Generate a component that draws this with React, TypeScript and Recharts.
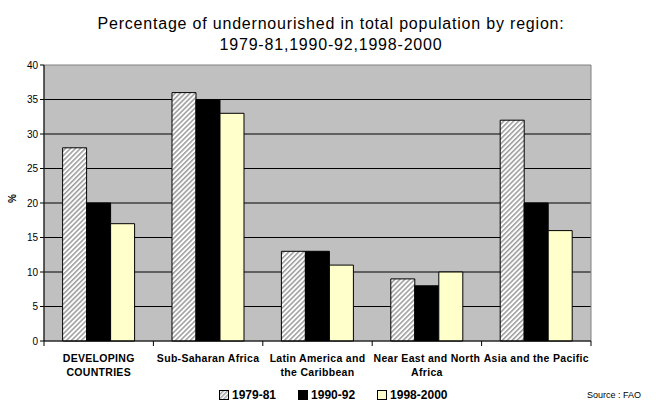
import React from "react";
import { BarChart, Bar, XAxis, YAxis, CartesianGrid, ReferenceArea } from "recharts";

const categories = [
  "DEVELOPING\nCOUNTRIES",
  "Sub-Saharan Africa",
  "Latin America and\nthe Caribbean",
  "Near East and North\nAfrica",
  "Asia and the Pacific",
];
const series = ["1979-81", "1990-92", "1998-2000"];
const v1979 = [28, 36, 13, 9, 32];
const v1990 = [20, 35, 13, 8, 20];
const v1998 = [17, 33, 11, 10, 16];
const yTicks = [0, 5, 10, 15, 20, 25, 30, 35, 40];

const data = categories.map((name, i) => ({
  name,
  [series[0]]: v1979[i],
  [series[1]]: v1990[i],
  [series[2]]: v1998[i],
}));

const W = 662;
const H = 407;
const PLOT_LEFT = 44;
const PLOT_RIGHT = 591;
const BAND = (PLOT_RIGHT - PLOT_LEFT) / categories.length;

const fills = ["url(#hatch)", "#000000", "#FFFFCC"];
const font = "Arial, 'Liberation Sans', sans-serif";

function CategoryTick(props: any) {
  const { x, y, payload, index } = props;
  const lines = String(payload.value).split("\n");
  return (
    <g>
      <line x1={x - BAND / 2} y1={y - 8} x2={x - BAND / 2} y2={y - 3} stroke="#000" />
      {index === categories.length - 1 && (
        <line x1={x + BAND / 2} y1={y - 8} x2={x + BAND / 2} y2={y - 3} stroke="#000" />
      )}
      <text textAnchor="middle" fontSize={10.5} fontWeight="bold" fontFamily={font} fill="#000" letterSpacing={0.3}>
        {lines.map((l, i) => (
          <tspan key={i} x={x} y={y + 13 + i * 14}>
            {l}
          </tspan>
        ))}
      </text>
    </g>
  );
}

function Swatch({ fill }: { fill: string }) {
  return (
    <svg width={10} height={10} style={{ marginRight: 3 }}>
      <rect x={0.5} y={0.5} width={9} height={9} fill={fill} stroke="#000" strokeWidth={1} />
    </svg>
  );
}

export default function App() {
  return (
    <div style={{ position: "absolute", left: 0, top: 0, width: W, height: H, background: "#fff", fontFamily: font }}>
      <div style={{ position: "absolute", left: 0, top: 13, width: W, textAlign: "center", fontSize: 16, lineHeight: "21px", letterSpacing: 0.8, color: "#000" }}>
        Percentage of undernourished in total population by region:
        <br />
        1979-81,1990-92,1998-2000
      </div>
      <BarChart
        width={W}
        height={H}
        data={data}
        margin={{ top: 65, right: W - PLOT_RIGHT, bottom: 36, left: 0 }}
        barCategoryGap="17%"
        barGap={0}
      >
        <defs>
          <pattern id="hatch" width="3.5" height="3.5" patternUnits="userSpaceOnUse" patternTransform="rotate(45)">
            <rect width="3.5" height="3.5" fill="#ffffff" />
            <rect width="1.6" height="3.5" fill="#a0a0a0" />
          </pattern>
          <pattern id="hatchLegend" width="3" height="3" patternUnits="userSpaceOnUse" patternTransform="rotate(45)">
            <rect width="3" height="3" fill="#ffffff" />
            <rect width="1.5" height="3" fill="#a0a0a0" />
          </pattern>
        </defs>
        <CartesianGrid
          vertical={false}
          stroke="#000"
          fill="#C0C0C0"
          strokeOpacity={1}
          horizontalValues={yTicks.slice(1, -1)}
        />
        <ReferenceArea y1={0} y2={40} fill="none" stroke="#808080" strokeWidth={1} ifOverflow="visible" />
        <XAxis
          dataKey="name"
          tick={<CategoryTick />}
          tickLine={false}
          axisLine={{ stroke: "#000" }}
          height={30}
          interval={0}
        />
        <YAxis
          width={PLOT_LEFT}
          domain={[0, 40]}
          ticks={yTicks}
          tick={{ fontSize: 10, fill: "#000", fontFamily: font }}
          tickLine={{ stroke: "#000" }}
          tickSize={4}
          axisLine={{ stroke: "#000" }}
          label={{ value: "%", angle: -90, position: "insideLeft", offset: 12, style: { fontSize: 10, fontWeight: "bold", fill: "#000" } }}
        />
        {series.map((s, i) => (
          <Bar key={s} dataKey={s} fill={fills[i]} stroke="#000" strokeWidth={1} isAnimationActive={false} />
        ))}
      </BarChart>
      <div style={{ position: "absolute", left: 219, top: 388, display: "flex", alignItems: "center", fontSize: 12, fontWeight: "bold" }}>
        {series.map((s, i) => (
          <div key={s} style={{ display: "flex", alignItems: "center", marginRight: 22 }}>
            <Swatch fill={i === 0 ? "url(#hatchLegend)" : fills[i]} />
            {s}
          </div>
        ))}
      </div>
      <div style={{ position: "absolute", left: 587, top: 390, fontSize: 9 }}>Source : FAO</div>
    </div>
  );
}
